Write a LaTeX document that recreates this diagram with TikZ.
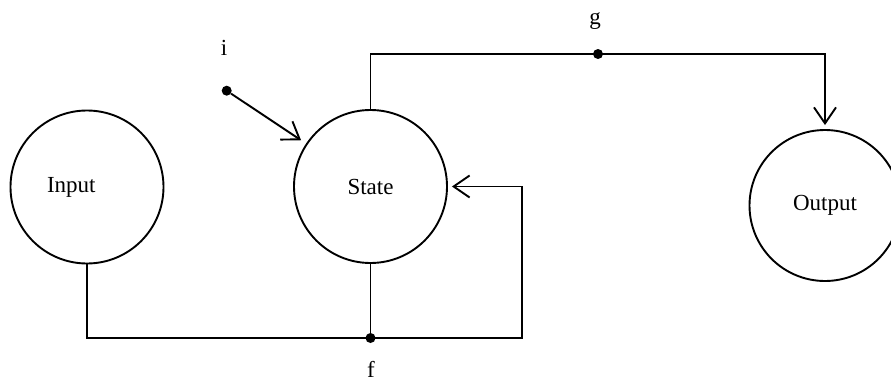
\documentclass[tikz,border=0pt]{standalone}
\usepackage{fontspec}
\setmainfont{Liberation Serif}
\usetikzlibrary{arrows.meta,positioning,calc}
\tikzset{blob/.style={draw,circle,minimum size=153pt,inner sep=0pt,line width=1.9pt},
 dot/.style={circle,fill,inner sep=0pt,minimum size=10pt},
 wire/.style={line width=1.9pt},
 flow/.style={wire,-{Straight Barb[length=16pt,width=22pt]},shorten >=4pt},
 txt/.style={font=\fontsize{23}{28}\selectfont,inner sep=0pt}}

\begin{document}
\begin{tikzpicture}[x=1pt,y=-1pt,txt]
\clip(0,0)rectangle(891,383);
\node[blob,text width=80pt,align=left] (input) at(87,187){Input};
\node[blob] (state) at(370.5,186.5){State};
\node[blob,minimum size=151pt] (output) at(825,205.5){Output};
\node[dot] (idot) at(226.7,90.7){};
\node[dot] (fdot) at(370.5,338){};
\node[dot] (gdot) at(598,54){};
\coordinate (loop) at(522,338);
\coordinate (top) at(370.5,54);
\node[anchor=base] (ilab) at(224,55){i};
\node[anchor=base] (flab) at(371,377){f};
\node[anchor=base] (glab) at(595,24){g};
\draw[wire](state.south)--(fdot);
\draw[flow](input.south)|-(loop)|-(state.east);
\draw[flow](state.north)--(top)-|(output.north);
\draw[flow,shorten >=6pt](idot)--(state);
\end{tikzpicture}
\end{document}
